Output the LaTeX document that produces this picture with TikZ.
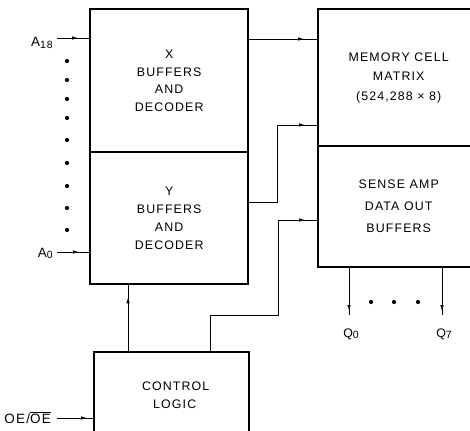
\documentclass[tikz,border=0pt]{standalone}
\usepackage{fontspec}
\setmainfont{Liberation Sans}[LetterSpace=9]
\usetikzlibrary{arrows.meta,decorations.markings}
\tikzset{
  blk/.style={draw, line width=2.4pt, anchor=north west, align=center, inner sep=0pt,
              font=\fontsize{12.4}{17.8}\selectfont},
  conn/.style={line width=0.9pt},
  arr/.style={conn, decoration={markings, mark=at position #1 with {\arrow{Latex[length=6pt,width=3.6pt]}}}, postaction=decorate},
  arr/.default=-9pt,
  lbl/.style={font=\fontsize{13.5}{15}\selectfont, inner sep=0pt},
  qlbl/.style={font=\fontsize{12.4}{14}\selectfont, inner sep=0pt},
  dotnode/.style={circle, fill, inner sep=0pt, minimum size=4.2pt}
}
\newcommand{\subidx}[1]{\raisebox{-1.5pt}{\fontsize{10.5}{11}\selectfont #1}}
\begin{document}
\begin{tikzpicture}[x=1pt,y=-1pt]
\useasboundingbox (0,0) rectangle (470,430);
\begin{scope}
\clip (0,0) rectangle (470,430);
\node[blk, minimum width=158pt, minimum height=143pt] (xb) at (89,8) {X\\BUFFERS\\AND\\DECODER};
\node[blk, minimum width=158pt, minimum height=132pt] (yb) at (89,151) {Y\\BUFFERS\\AND\\DECODER};
\node[blk, minimum width=161pt, minimum height=137pt, font=\fontsize{12.4}{19.5}\selectfont] (mem) at (317,8) {MEMORY CELL\\MATRIX\\(524,288 × 8)};
\node[blk, minimum width=161pt, minimum height=121pt, font=\fontsize{12.4}{22}\selectfont] (sense) at (317,145) {SENSE AMP\\DATA OUT\\BUFFERS};
\node[blk, minimum width=155pt, minimum height=86pt] (ctrl) at (93,351) {\hspace*{8pt}CONTROL\\\hspace*{6pt}LOGIC};
\end{scope}

% address inputs
\node[lbl, anchor=base east] (la18) at (53,47) {A\subidx{18}};
\coordinate (a18) at (57,38);
\draw[arr=-11pt] (a18) -- (xb.west |- a18);
\node[lbl, anchor=base east] (la0) at (53,257) {A\subidx{0}};
\coordinate (a0) at (57,252);
\draw[arr=-10pt] (a0) -- (yb.west |- a0);
\foreach \yy [count=\i] in {61,80,99,118,140,163,186,208,230}
  \node[dotnode] (ad\i) at (67,\yy) {};

% X -> memory
\draw[arr=-13pt] (xb.east |- 0,39) -- (mem.west |- 0,39);
% Y -> memory
\draw[arr=-12pt] (yb.east |- 0,202) -| (277,125) -- (mem.west |- 0,125);
% control -> sense amp
\draw[arr=-12pt] (ctrl.north -| 210,0) |- (278,315) |- (sense.west |- 0,220);
% control -> Y
\draw[arr=-12pt] (ctrl.north -| 128,0) -- (yb.south -| 128,0);

% outputs
\coordinate (q0) at (349,315);
\coordinate (q7) at (442,315);
\draw[arr=-4pt] (sense.south -| q0) -- (q0);
\draw[arr=-4pt] (sense.south -| q7) -- (q7);
\node[qlbl, anchor=base] (lq0) at (351,337) {Q\subidx{0}};
\node[qlbl, anchor=base] (lq7) at (444,337) {Q\subidx{7}};
\foreach \xx [count=\i] in {371,394,418}
  \node[dotnode] (qd\i) at (\xx,302) {};

% OE
\node[lbl, anchor=base east] (loe) at (51,423) {OE/$\overline{\mbox{OE}}$};
\coordinate (oe) at (57,418);
\draw[arr=-6pt] (oe) -- (ctrl.west |- oe);
\end{tikzpicture}
\end{document}
